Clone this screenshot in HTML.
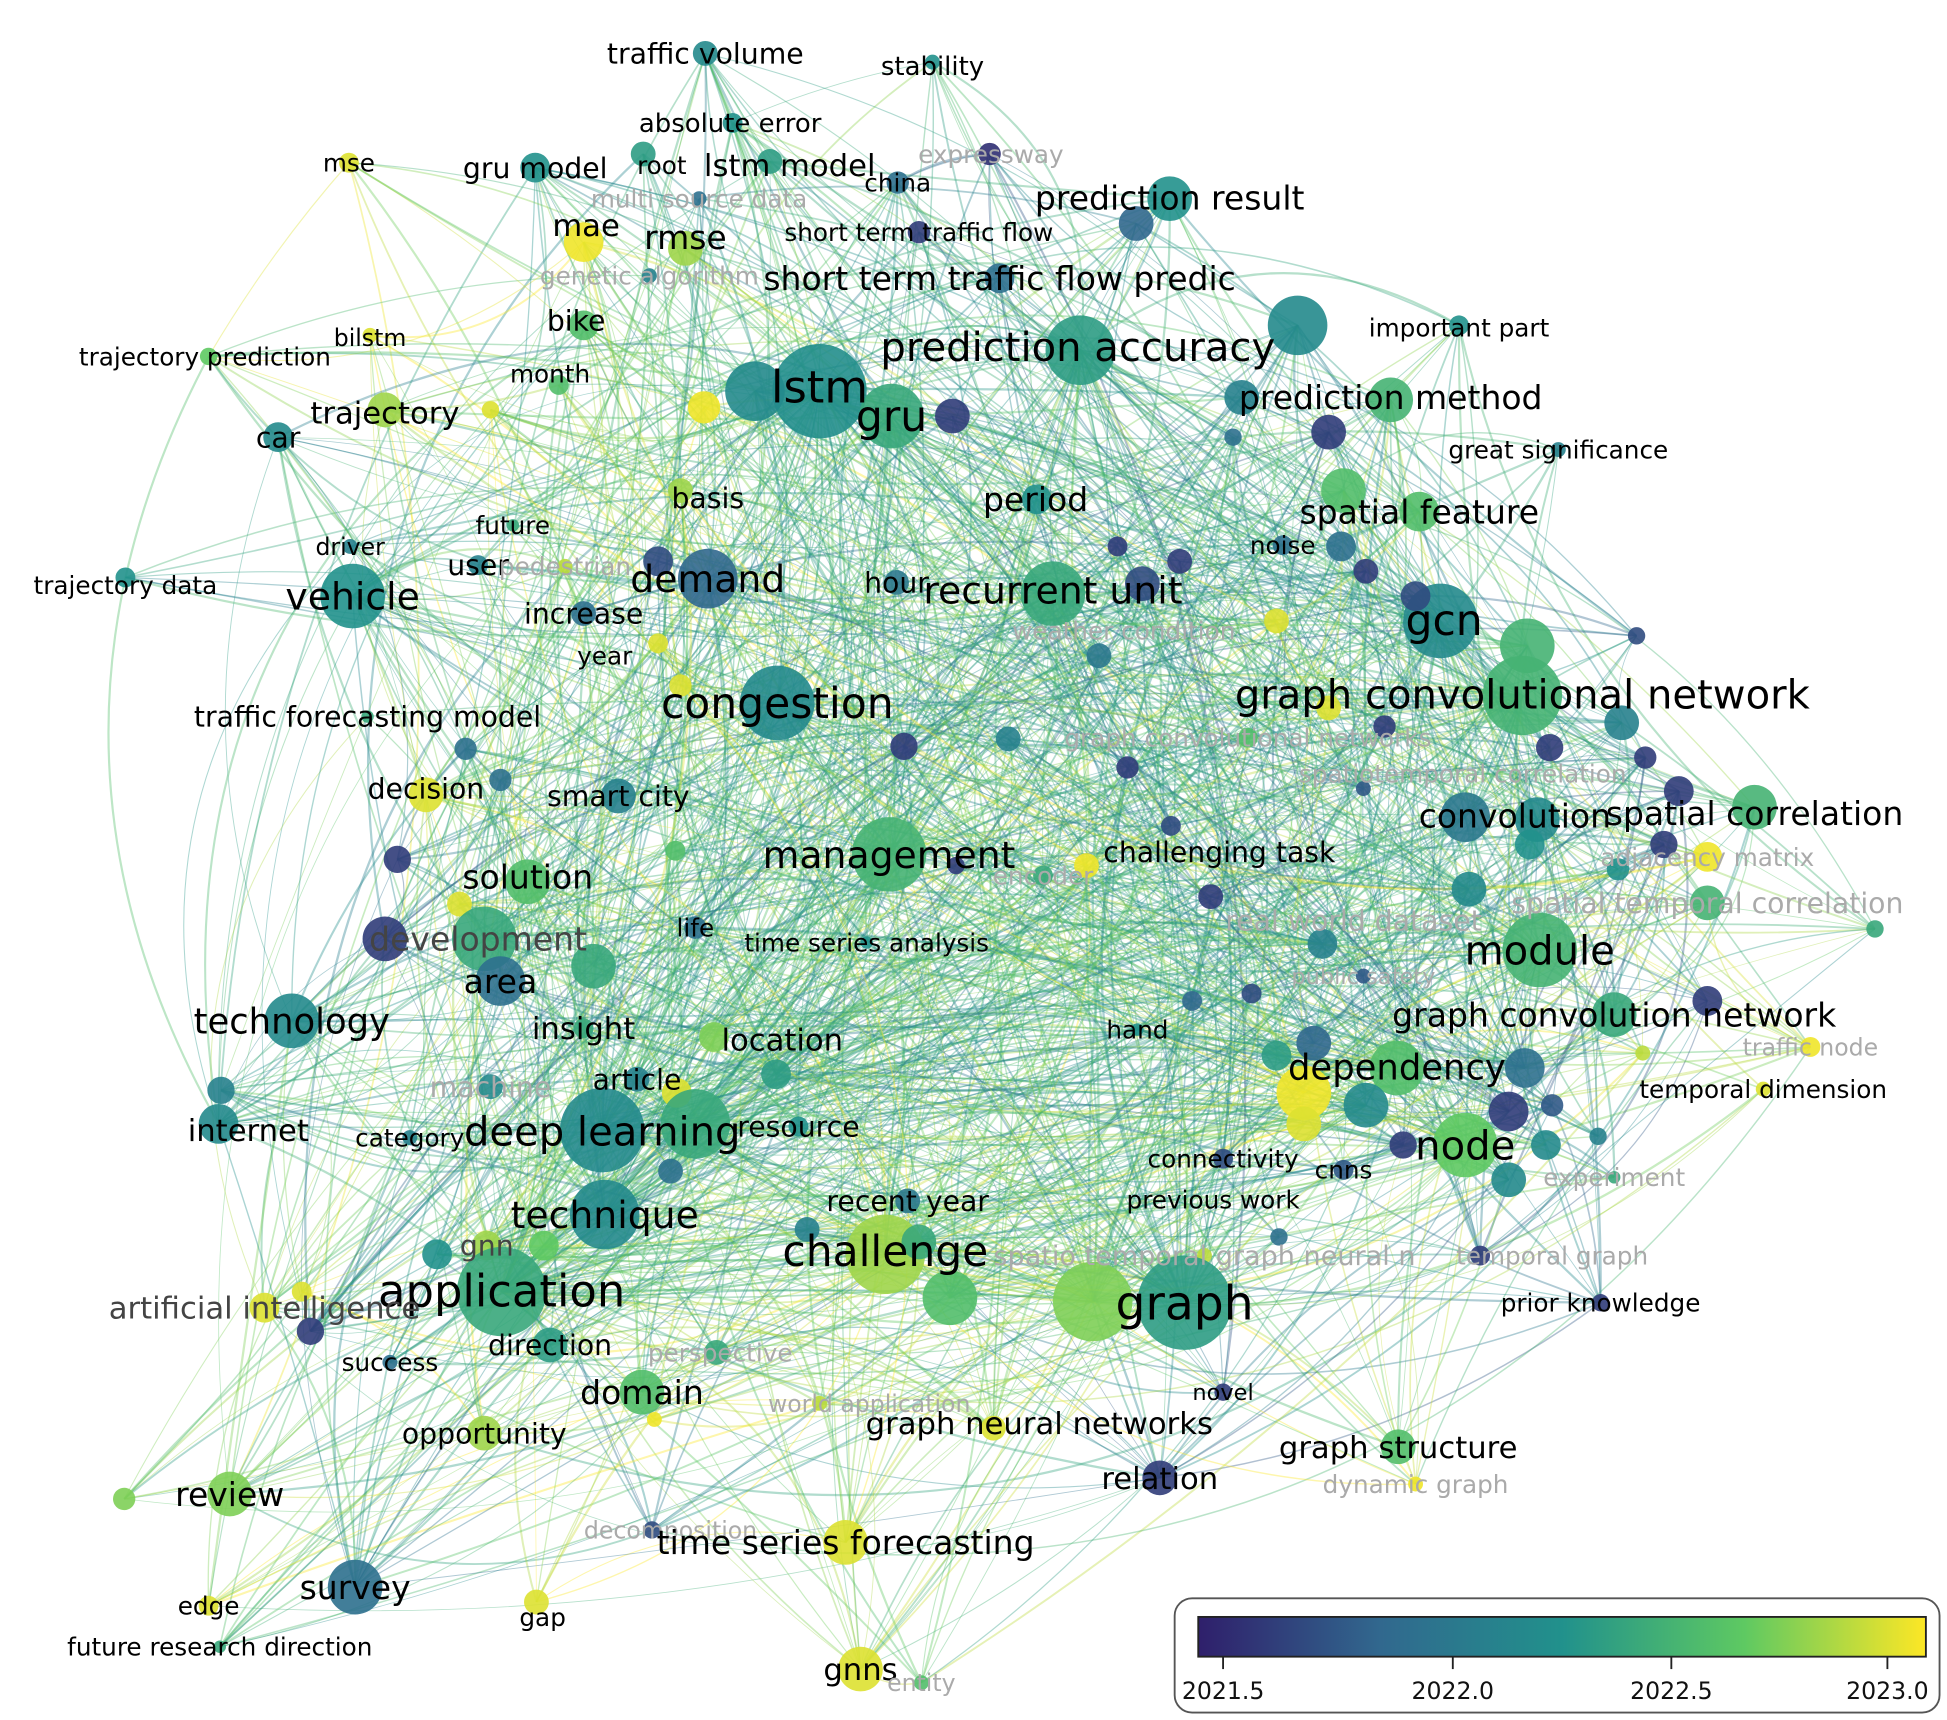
<!DOCTYPE html>
<html><head><meta charset="utf-8"><style>
html,body{margin:0;padding:0;background:#fff;}
svg{display:block;}
text{font-family:"DejaVu Sans","Liberation Sans",sans-serif;}
</style></head><body>
<svg id="s" width="1947" height="1720" viewBox="0 0 1568 1385" preserveAspectRatio="none" xmlns="http://www.w3.org/2000/svg">
<defs><linearGradient id="vg" x1="0" x2="1" y1="0" y2="0">
<stop offset="0" stop-color="#2f1f6b"/><stop offset="0.25" stop-color="#31688e"/><stop offset="0.5" stop-color="#21918c"/><stop offset="0.75" stop-color="#5ec962"/><stop offset="1" stop-color="#fde725"/></linearGradient></defs>
<g id="edges"></g><g id="nodes"></g><g id="labels"></g>
<g>
<rect x="946" y="1287" width="616" height="92" rx="14" fill="#fff" stroke="#555" stroke-width="1.5"/>
<rect x="965" y="1302" width="586" height="32" fill="url(#vg)" stroke="#222" stroke-width="1.5"/>
<g stroke="#222" stroke-width="1.5"><line x1="985" y1="1334" x2="985" y2="1344"/><line x1="1170" y1="1334" x2="1170" y2="1344"/><line x1="1346" y1="1334" x2="1346" y2="1344"/><line x1="1520" y1="1334" x2="1520" y2="1344"/></g>
<g font-size="19" fill="#111" text-anchor="middle"><text x="985" y="1368">2021.5</text><text x="1170" y="1368">2022.0</text><text x="1346" y="1368">2022.5</text><text x="1520" y="1368">2023.0</text></g>
</g>
</svg>
<script>
var N=[
["traffic volume",568,43,24,568,43,10,.45],
["stability",751,53,22,751,50,6,.5],
["absolute error",588,99,22,590,99,8,.5],
["expressway",798,124,21,797,124,9,.05,1],
["mse",281,131,21,281,131,8,.95],
["gru model",431,135,24,431,135,12,.5],
["root",533,133,21,518,124,10,.55],
["lstm model",636,133,26,620,130,10,.55],
["china",723,147,21,723,147,9,.3],
["prediction result",942,159,28,942,160,18,.5],
["",915,180,0,915,180,14,.25],
["multi source data",563,160,21,563,160,6,.3,1],
["mae",472,181,26,470,195,16,.98],
["rmse",552,191,28,552,200,14,.85],
["short term traffic flow",740,187,21,740,187,9,.1],
["genetic algorithm",523,222,21,523,222,6,.4,1],
["short term traffic flow predic",805,224,28,805,224,12,.3],
["important part",1175,264,21,1175,262,8,.5],
["",1045,262,0,1045,262,24,.45],
["bike",464,258,24,470,262,12,.7],
["bilstm",298,272,20,298,270,6,.95],
["trajectory prediction",165,287,21,168,287,7,.75],
["prediction accuracy",868,279,34,870,282,28,.55],
["lstm",660,311,38,660,315,38,.48],
["",608,315,0,608,315,24,.45],
["gru",718,335,36,718,335,26,.6],
["",767,335,0,767,335,14,.1],
["month",443,301,21,450,310,8,.7],
["trajectory",310,332,26,310,330,14,.85],
["",395,330,0,395,330,7,.95],
["",567,328,0,567,328,13,.98],
["car",224,352,24,224,352,12,.45],
["prediction method",1120,320,28,1120,322,18,.65],
["",1000,320,0,1000,320,14,.4],
["",1070,348,0,1070,348,14,.1],
["",993,352,0,993,352,7,.3],
["great significance",1255,362,21,1255,362,6,.4],
["basis",570,401,24,548,395,10,.85],
["future",413,423,21,413,423,5,.6],
["period",834,402,28,835,402,12,.5],
["spatial feature",1143,412,28,1143,412,16,.7],
["",1082,395,0,1082,395,18,.7],
["noise",1033,439,21,1033,439,8,.3],
["",1080,440,0,1080,440,12,.3],
["",1100,460,0,1100,460,10,.1],
["",950,452,0,950,452,10,.1],
["",900,440,0,900,440,8,.1],
["driver",282,440,20,282,440,6,.4],
["trajectory data",101,471,21,101,465,8,.5],
["vehicle",284,480,32,284,480,26,.5],
["user",385,455,24,385,455,8,.4],
["pedestrian",455,456,21,455,456,6,.9,1],
["demand",570,466,32,570,466,24,.25],
["",530,452,0,530,452,12,.15],
["hour",722,469,24,722,469,10,.35],
["recurrent unit",848,475,32,848,478,26,.6],
["",920,470,0,920,470,14,.15],
["increase",470,494,24,470,494,10,.3],
["year",487,528,21,530,518,8,.95],
["",1028,500,0,1028,500,10,.95],
["gcn",1163,499,36,1160,500,30,.45],
["",1140,480,0,1140,480,12,.15],
["",1230,520,0,1230,520,22,.65],
["",1318,512,0,1318,512,7,.15],
["weather condition",905,508,21,885,528,10,.35,1],
["congestion",626,566,36,626,566,30,.45],
["",548,552,0,548,552,9,.95],
["graph convolutional network",1226,559,34,1226,560,32,.65],
["",1306,582,0,1306,582,14,.4],
["",1070,570,0,1070,570,10,.95],
["",1115,585,0,1115,585,9,.1],
["",1248,602,0,1248,602,11,.1],
["",1325,610,0,1325,610,9,.1],
["traffic forecasting model",296,577,24,296,577,5,.6],
["",375,603,0,375,603,9,.3],
["",728,601,0,728,601,11,.1],
["",812,595,0,812,595,10,.4],
["",908,618,0,908,618,9,.1],
["decision",343,635,24,343,640,14,.95],
["",403,628,0,403,628,9,.3],
["smart city",498,641,24,498,641,14,.4],
["graph convolutional networks",1005,594,21,1005,594,8,.7,1],
["spatiotemporal correlation",1178,623,21,1098,635,6,.2,1],
["spatial correlation",1413,655,28,1413,650,18,.65],
["",1352,637,0,1352,637,12,.1],
["convolution",1220,657,28,1180,658,20,.35],
["",1238,660,0,1238,660,18,.45],
["",1340,680,0,1340,680,11,.1],
["adjacency matrix",1375,690,21,1375,690,12,.98,1],
["",1303,700,0,1303,700,9,.5],
["",1232,680,0,1232,680,12,.5],
["",943,665,0,943,665,8,.15],
["",320,692,0,320,692,11,.1],
["",544,685,0,544,685,8,.7],
["management",716,688,32,716,688,30,.65],
["",770,697,0,770,697,7,.1],
["challenging task",982,686,24,875,697,10,.98],
["encoder",840,705,21,840,705,8,.6,1],
["solution",425,706,28,425,710,18,.7],
["",370,728,0,370,728,10,.95],
["development",385,756,28,390,756,26,.6,2],
["",310,756,0,310,756,18,.1],
["",478,778,0,478,778,18,.6],
["life",560,747,21,560,747,9,.3],
["time series analysis",698,759,21,698,759,5,.5],
["real world dataset",1090,741,24,1065,760,12,.4,1],
["",975,722,0,975,722,10,.1],
["",1183,716,0,1183,716,14,.45],
["spatial temporal correlation",1375,727,24,1375,727,14,.65,1],
["",1510,748,0,1510,748,7,.6],
["module",1240,765,34,1240,765,30,.65],
["area",403,790,28,403,790,20,.3],
["public safety",1098,786,19,1098,786,6,.2,1],
["",960,806,0,960,806,8,.25],
["",1008,800,0,1008,800,8,.15],
["",1375,806,0,1375,806,12,.1],
["technology",235,822,30,235,822,22,.45],
["insight",470,828,26,470,828,8,.6],
["location",630,837,26,575,835,12,.8],
["",625,865,0,625,865,12,.55],
["hand",916,829,21,916,829,5,.5],
["graph convolution network",1300,817,28,1300,817,18,.6],
["traffic node",1458,843,20,1458,843,8,.98,1],
["",1323,848,0,1323,848,6,.9],
["",1058,840,0,1058,840,14,.25],
["",1028,850,0,1028,850,12,.55],
["dependency",1125,859,30,1125,860,22,.7],
["",1050,880,0,1050,880,22,.98],
["",1050,905,0,1050,905,14,.95],
["",1100,890,0,1100,890,18,.45],
["",1228,860,0,1228,860,16,.3],
["",1215,895,0,1215,895,16,.1],
["",1250,890,0,1250,890,9,.2],
["temporal dimension",1420,877,21,1420,877,6,.95],
["",1287,915,0,1287,915,7,.4],
["internet",200,910,26,176,905,16,.45],
["",178,878,0,178,878,11,.4],
["category",330,916,21,330,916,6,.4],
["machine",395,875,24,395,875,10,.45,1],
["article",513,869,24,513,869,10,.4],
["",545,880,0,545,880,12,.95],
["deep learning",485,911,34,485,910,34,.45],
["",560,905,0,560,905,28,.6],
["resource",643,907,24,643,907,8,.5],
["node",1180,922,34,1180,922,26,.75],
["",1130,922,0,1130,922,11,.1],
["",1245,922,0,1245,922,12,.45],
["",1215,950,0,1215,950,14,.45],
["connectivity",985,933,21,985,933,8,.15],
["cnns",1082,942,21,1082,942,8,.2],
["experiment",1300,948,21,1300,948,5,.6,1],
["recent year",731,967,24,731,967,10,.35],
["previous work",977,966,21,1030,996,7,.3],
["technique",487,978,32,487,978,28,.45],
["",540,943,0,540,943,10,.3],
["",650,990,0,650,990,10,.4],
["gnn",392,1003,24,392,1003,12,.85,2],
["",352,1010,0,352,1010,12,.5],
["",438,1003,0,438,1003,12,.75],
["challenge",713,1007,36,713,1010,32,.85],
["",765,1045,0,765,1045,22,.7],
["",740,1000,0,740,1000,14,.6],
["spatio temporal graph neural n",970,1011,23,970,1011,6,.9,1],
["temporal graph",1250,1011,21,1192,1011,8,.1,1],
["graph",954,1049,40,954,1049,38,.55],
["",880,1048,0,880,1048,32,.8],
["application",404,1039,38,404,1040,36,.6],
["artificial intelligence",213,1053,26,213,1053,12,.95,2],
["",250,1072,0,250,1072,11,.1],
["",243,1040,0,243,1040,8,.95],
["prior knowledge",1289,1049,21,1289,1049,7,.1],
["success",314,1097,21,314,1097,6,.3],
["direction",443,1083,24,443,1083,14,.55],
["perspective",580,1089,21,577,1089,10,.6,1],
["domain",517,1121,28,517,1121,18,.7],
["",527,1143,0,527,1143,6,.98],
["novel",985,1121,19,985,1121,7,.1],
["world application",700,1130,20,660,1130,6,.9,1],
["graph neural networks",837,1146,26,800,1150,10,.95],
["opportunity",390,1154,24,390,1154,14,.85],
["graph structure",1126,1165,26,1126,1165,14,.7],
["relation",934,1190,26,934,1190,14,.1],
["dynamic graph",1140,1195,21,1140,1195,6,.98,1],
["review",185,1203,28,185,1203,18,.8],
["",100,1207,0,100,1207,9,.8],
["decomposition",540,1232,20,525,1232,7,.15,1],
["time series forecasting",681,1242,28,681,1242,18,.95],
["survey",286,1278,28,286,1278,22,.3],
["edge",168,1293,21,168,1293,8,.95],
["gap",437,1302,21,432,1290,10,.95],
["future research direction",177,1326,21,177,1326,5,.6],
["gnns",693,1344,26,693,1344,18,.95],
["entity",742,1355,20,742,1355,6,.7,1]
];
function vir(t){var c=[[47,31,107],[49,104,142],[33,145,140],[94,201,98],[253,231,37]];t=Math.max(0,Math.min(1,t))*4;var i=Math.min(3,Math.floor(t)),f=t-i,a=c[i],b=c[i+1];return "rgb("+[0,1,2].map(k=>Math.round(a[k]+(b[k]-a[k])*f)).join(",")+")";}
var seed=7;function R(){seed=(seed*16807)%2147483647;return seed/2147483647;}
var ns="http://www.w3.org/2000/svg",E=document.getElementById("edges"),G=document.getElementById("nodes"),L=document.getElementById("labels");
function el(t,a,p){var e=document.createElementNS(ns,t);for(var k in a)e.setAttribute(k,a[k]);p.appendChild(e);return e;}
var W=[];N.forEach(function(n){W.push(n[6]*n[6]);});var tot=W.reduce((a,b)=>a+b,0);
function pick(){var r=R()*tot;for(var i=0;i<N.length;i++){r-=W[i];if(r<=0)return i;}return 0;}
for(var k=0;k<1600;k++){var i=pick(),j=Math.floor(R()*N.length);if(i==j)continue;var a=N[i],b=N[j];
var mx=(a[4]+b[4])/2,my=(a[5]+b[5])/2,dx=b[4]-a[4],dy=b[5]-a[5];var bend=(R()-.5)*0.7;
var cx=mx-dy*bend,cy=my+dx*bend;var t=(a[7]+b[7])/2+0.1;var col=vir(t);
el("path",{d:"M"+a[4]+" "+a[5]+"Q"+cx.toFixed(1)+" "+cy.toFixed(1)+" "+b[4]+" "+b[5],fill:"none",stroke:col,"stroke-opacity":0.38,"stroke-width":(0.6+R()*1.3).toFixed(2)},E);}
N.forEach(function(n){el("circle",{cx:n[4],cy:n[5],r:n[6],fill:vir(n[7]),"fill-opacity":0.9},G);});
N.forEach(function(n){if(!n[0])return;var g=n[8]==1?"#aaa":(n[8]==2?"#444":"#000");
var t=el("text",{x:n[1],y:n[2]+n[3]*0.34,"font-size":(n[3]*0.95).toFixed(1),"text-anchor":"middle",fill:g},L);t.textContent=n[0];});
</script>
</body></html>
